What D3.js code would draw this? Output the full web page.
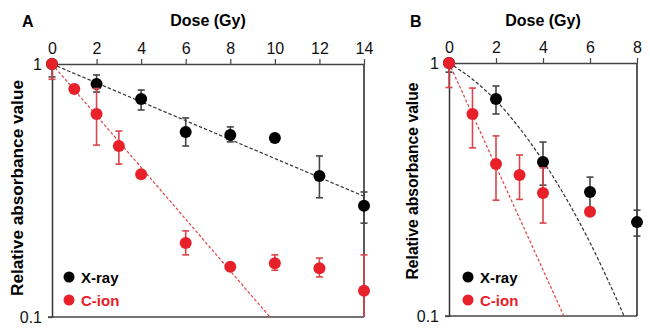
<!DOCTYPE html>
<html><head><meta charset="utf-8">
<script src="https://cdn.jsdelivr.net/npm/d3@7"></script>
<style>body{margin:0;background:#fff;}svg{display:block;font-family:"Liberation Sans",Arial,sans-serif;}</style>
</head><body>
<svg id="c" width="650" height="333"></svg>
<script>
// ---- Panel A data ----
const xTicksA = [0,2,4,6,8,10,12,14];
const xrayDoseA = [0,2,4,6,8,10,12,14];
const xrayA   = [1,0.834,0.727,0.539,0.524,0.510,0.361,0.275];
const xrayAHi = [1,0.905,0.789,0.612,0.564,0.525,0.433,0.312];
const xrayALo = [0.889,0.775,0.658,0.474,0.492,0.495,0.296,0.235];
const cionDoseA = [0,1,2,3,4,6,8,10,12,14];
const cionA   = [1,0.797,0.634,0.474,0.367,0.196,0.158,0.163,0.156,0.127];
const cionAHi = [1,0.797,0.80,0.543,0.367,0.219,0.158,0.176,0.171,0.176];
const cionALo = [0.87,0.797,0.478,0.402,0.367,0.176,0.158,0.153,0.144,0.09];
const fitXrayA = [[0,1],[14,0.30]];
const fitCionA = [[0,1],[9.78,0.1]];

// ---- Panel B data ----
const xTicksB = [0,2,4,6,8];
const xrayDoseB = [0,2,4,6,8];
const xrayB   = [1,0.72,0.406,0.309,0.235];
const xrayBHi = [1,0.811,0.487,0.354,0.262];
const xrayBLo = [0.92,0.629,0.329,0.268,0.207];
const cionDoseB = [0,1,2,3,4,6];
const cionB   = [1,0.629,0.399,0.361,0.306,0.258];
const cionBHi = [1,0.796,0.515,0.433,0.385,0.258];
const cionBLo = [0.80,0.462,0.287,0.289,0.233,0.258];
const fitXrayB = [[0,1],[1,0.863],[2,0.71],[3,0.553],[4,0.41],[5,0.29],[6,0.195],[7,0.124],[7.45,0.1]];
const fitCionB = [[0,1],[4.89,0.1]];

const yTicks = [1,0.1];
const seriesNames = ["X-ray","C-ion"];
const RED = "#e8202a", BLACK = "#000";

const svg = d3.select("#c");

function panel(o){
  const x = d3.scaleLinear().domain([0,o.xmax]).range([o.x0,o.x1]);
  const y = d3.scaleLog().domain([0.1,1]).range([o.y1,o.y0]);
  const g = svg.append("g");
  const clipId = "clip"+o.label;
  svg.append("clipPath").attr("id",clipId).append("rect")
    .attr("x",o.x0-10).attr("y",o.y0-10).attr("width",o.x1-o.x0+20).attr("height",o.y1-o.y0+10);

  // box
  g.append("line").attr("x1",o.x1).attr("x2",o.x1).attr("y1",o.y0).attr("y2",o.y1).attr("stroke","#222").attr("stroke-width",1.5);
  g.append("line").attr("x1",o.x0-4).attr("x2",o.x1).attr("y1",o.y1).attr("y2",o.y1).attr("stroke","#444").attr("stroke-width",1.5);
  // top axis
  const ax = g.append("g").attr("transform",`translate(0,${o.y0})`)
    .call(d3.axisTop(x).tickValues(o.xticks).tickSize(5).tickSizeOuter(0).tickFormat(d3.format("d")));
  ax.select(".domain").attr("stroke","#444").attr("stroke-width",1.5);
  ax.selectAll(".tick line").attr("stroke","#444").attr("stroke-width",1.2);
  ax.selectAll("text").attr("font-size",16).attr("fill","#111").attr("dy","-0.1em")
    .attr("font-family","'Liberation Sans',Arial,sans-serif");
  // left axis
  const ay = g.append("g").attr("transform",`translate(${o.x0},0)`)
    .call(d3.axisLeft(y).tickValues(yTicks).tickSize(4).tickSizeOuter(0).tickFormat(d=>d===1?"1":"0.1"));
  ay.select(".domain").attr("stroke","#333").attr("stroke-width",1.5);
  ay.selectAll(".tick line").attr("stroke","#444").attr("stroke-width",1.2);
  ay.selectAll("text").attr("font-size",16).attr("fill","#111").attr("x",-10)
    .attr("font-family","'Liberation Sans',Arial,sans-serif");

  // titles
  g.append("text").attr("x",(o.x0+o.x1)/2).attr("y",26).attr("text-anchor","middle")
    .attr("font-weight","bold").attr("font-size",16).text("Dose (Gy)");
  g.append("text").attr("x",0).attr("y",0).attr("text-anchor","middle")
    .attr("transform",`translate(${o.ylabX},${o.ylabY}) rotate(-90)`)
    .attr("font-weight","bold").attr("font-size",o.ylabSize).text("Relative absorbance value");
  g.append("text").attr("x",o.labelX).attr("y",27).attr("font-weight","bold").attr("font-size",16).text(o.label);

  // fit lines
  const line = d3.line().x(d=>x(d[0])).y(d=>y(d[1])).curve(d3.curveMonotoneX);
  g.append("path").datum(o.fitX).attr("d",line).attr("fill","none").attr("stroke","#333")
    .attr("stroke-width",1.2).attr("stroke-dasharray","3.5,2").attr("clip-path",`url(#${clipId})`);
  g.append("path").datum(o.fitC).attr("d",line).attr("fill","none").attr("stroke","#e04048")
    .attr("stroke-width",1.2).attr("stroke-dasharray","3,2").attr("clip-path",`url(#${clipId})`);

  function series(doses, vals, hi, lo, col, barCol){
    const data = doses.map((d,i)=>({d,v:vals[i],hi:hi[i],lo:lo[i]}));
    const eb = g.append("g").attr("stroke",barCol).attr("stroke-width",1.6).attr("clip-path",`url(#${clipId})`);
    data.filter(p=>y(p.lo)-y(p.hi)>3).forEach(p=>{
      const cx = x(p.d), yl = Math.min(y(Math.max(p.lo,0.1)),o.y1), yh=y(p.hi);
      eb.append("line").attr("x1",cx).attr("x2",cx).attr("y1",yh).attr("y2",yl);
      eb.append("line").attr("x1",cx-3.5).attr("x2",cx+3.5).attr("y1",yh).attr("y2",yh);
      if(p.lo>=0.1) eb.append("line").attr("x1",cx-3.5).attr("x2",cx+3.5).attr("y1",yl).attr("y2",yl);
    });
    g.append("g").selectAll("circle").data(data).join("circle")
      .attr("cx",p=>x(p.d)).attr("cy",p=>y(p.v)).attr("r",6).attr("fill",col);
  }
  series(o.xd,o.xv,o.xhi,o.xlo,BLACK,"#444");
  series(o.cd,o.cv,o.chi,o.clo,RED,"#d8454c");

  // legend
  const lg = g.append("g");
  [[BLACK,277],[RED,300]].forEach((c,i)=>{
    lg.append("circle").attr("cx",o.legX).attr("cy",c[1]).attr("r",5.5).attr("fill",c[0]);
    lg.append("text").attr("x",o.legX+12).attr("y",c[1]+5.5).attr("font-weight","bold")
      .attr("font-size",15).attr("fill",c[0]).text(seriesNames[i]);
  });
}

panel({label:"A",labelX:22,x0:52,x1:364,y0:64,y1:317,xmax:14,xticks:xTicksA,
  xd:xrayDoseA,xv:xrayA,xhi:xrayAHi,xlo:xrayALo,
  cd:cionDoseA,cv:cionA,chi:cionAHi,clo:cionALo,fitX:fitXrayA,fitC:fitCionA,legX:69,
  ylabX:23,ylabY:188,ylabSize:17.2});
panel({label:"B",labelX:410,x0:449,x1:637,y0:63,y1:316,xmax:8,xticks:xTicksB,
  xd:xrayDoseB,xv:xrayB,xhi:xrayBHi,xlo:xrayBLo,
  cd:cionDoseB,cv:cionB,chi:cionBHi,clo:cionBLo,fitX:fitXrayB,fitC:fitCionB,legX:468,
  ylabX:418,ylabY:181,ylabSize:15.7});
</script>
</body></html>
